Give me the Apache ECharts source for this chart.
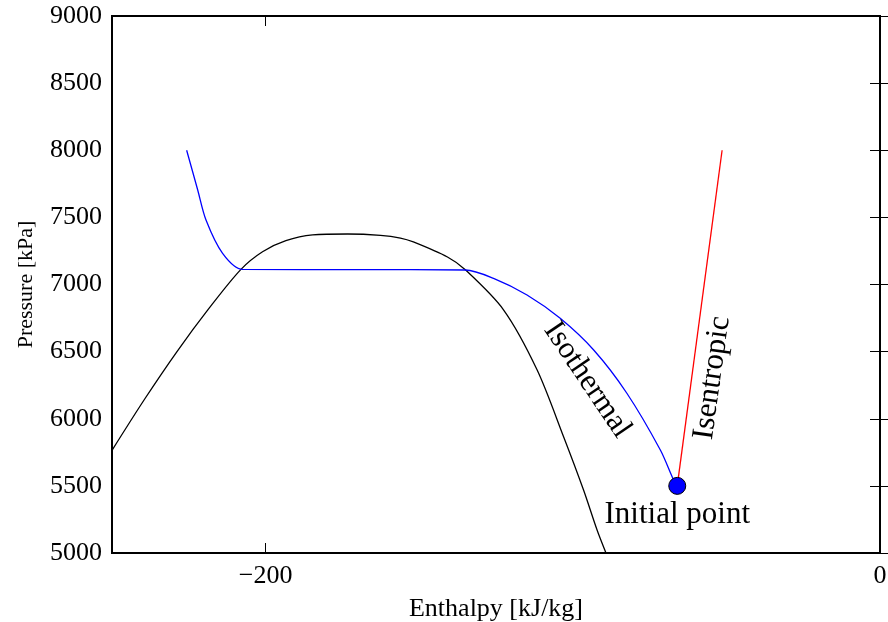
<!DOCTYPE html>
<html>
<head>
<meta charset="utf-8">
<script src="https://cdn.jsdelivr.net/npm/echarts@6/dist/echarts.min.js"></script>
<style>html,body{margin:0;padding:0;background:#fff}#c{width:888px;height:622px}</style>
</head>
<body>
<div id="c"></div>
<script>
// Saturation dome
var domeH = [-250, -239.3, -228.9, -218.5, -208.1, -201.0, -193.4, -184.7, -173.3, -162.6, -156.1, -151.9, -140.8, -135, -122.5, -111.6, -103.0, -96.5, -92.1, -89.2];
var domeP = [5765, 6149, 6499, 6820, 7111, 7244, 7326, 7369, 7376, 7366, 7346, 7317, 7205, 7110, 6810, 6363, 5866, 5469, 5171, 5000];
// Isotherm
var isoH = [-225.7, -222.1, -219.4, -214.0, -207.5, -170, -135, -125.8, -114.9, -104.1, -93.2, -82.4, -71.5, -67.2, -66.0];
var isoP = [8000, 7704, 7480, 7232, 7113, 7111, 7108, 7046, 6922, 6748, 6512, 6190, 5767, 5544, 5500];
// Isentrope
var isenH = [-66.0, -51.4];
var isenP = [5500, 8000];
// Initial point
var initH = [-66.0];
var initP = [5500];
// Annotations
var noteText = ['Isothermal', 'Isentropic', 'Initial point'];
var noteH = [-95.3, -54.6, -66.0];
var noteP = [6289, 6304, 5285];
var noteRot = [-56, 82, 0];
// Ticks
var xTicks = [-200, 0];

function zip(a, b) { return a.map(function (v, i) { return [v, b[i]]; }); }
var F = 'Liberation Serif, Times New Roman, serif';
var chart = echarts.init(document.getElementById('c'));
var tickStyle = { show: true, inside: true, length: 10, lineStyle: { color: '#000', width: 1 } };
chart.setOption({
  animation: false,
  grid: { left: 112, right: 8, top: 16, bottom: 69, outerBoundsMode: 'none', containLabel: false,
    show: true, borderColor: '#000', borderWidth: 2, backgroundColor: 'transparent' },
  xAxis: [{
    type: 'value', min: -250, max: 0, position: 'bottom',
    name: 'Enthalpy [kJ/kg]', nameLocation: 'middle', nameGap: 43,
    nameTextStyle: { fontFamily: F, fontSize: 26, color: '#000' },
    axisLine: { show: false }, splitLine: { show: false },
    axisTick: Object.assign({ customValues: xTicks }, tickStyle),
    axisLabel: { customValues: xTicks, fontFamily: F, fontSize: 26, color: '#000', margin: 10,
      formatter: function (v) { return String(v).replace('-', '\u2212'); } }
  }, {
    type: 'value', min: -250, max: 0, position: 'top',
    axisLine: { show: false }, splitLine: { show: false },
    axisTick: Object.assign({ customValues: xTicks }, tickStyle),
    axisLabel: { show: false }
  }],
  yAxis: [{
    type: 'value', min: 5000, max: 9000, interval: 500, position: 'left',
    name: 'Pressure [kPa]', nameLocation: 'middle', nameGap: 75,
    nameTextStyle: { fontFamily: F, fontSize: 22, color: '#000' },
    axisLine: { show: false }, splitLine: { show: false },
    axisTick: tickStyle,
    axisLabel: { fontFamily: F, fontSize: 26, color: '#000', margin: 10,
      formatter: function (v) { return String(v); } }
  }, {
    type: 'value', min: 5000, max: 9000, interval: 500, position: 'right',
    axisLine: { show: false }, splitLine: { show: false },
    axisTick: tickStyle, axisLabel: { show: false }
  }],
  series: [{
    type: 'line', data: zip(domeH, domeP), showSymbol: false, smooth: 0.3,
    lineStyle: { color: '#000', width: 1.3 }, z: 2
  }, {
    type: 'line', data: zip(isoH, isoP), showSymbol: false, smooth: 0.3,
    lineStyle: { color: '#0000ff', width: 1.3 }, z: 3
  }, {
    type: 'line', data: zip(isenH, isenP), showSymbol: false,
    lineStyle: { color: '#ff0000', width: 1.3 }, z: 3
  }, {
    type: 'scatter', data: zip(initH, initP), symbolSize: 17,
    itemStyle: { color: '#0000ff', borderColor: '#000', borderWidth: 1, opacity: 1 }, z: 5
  }, {
    type: 'scatter', symbolSize: 0, z: 6, silent: true, itemStyle: { opacity: 1 },
    data: noteText.map(function (t, i) {
      return { value: [noteH[i], noteP[i]], label: { show: true, position: 'inside', formatter: t, rotate: noteRot[i],
        fontFamily: F, fontSize: 31, color: '#000', opacity: 1, textBorderWidth: 0 } };
    })
  }]
});
</script>
</body>
</html>
